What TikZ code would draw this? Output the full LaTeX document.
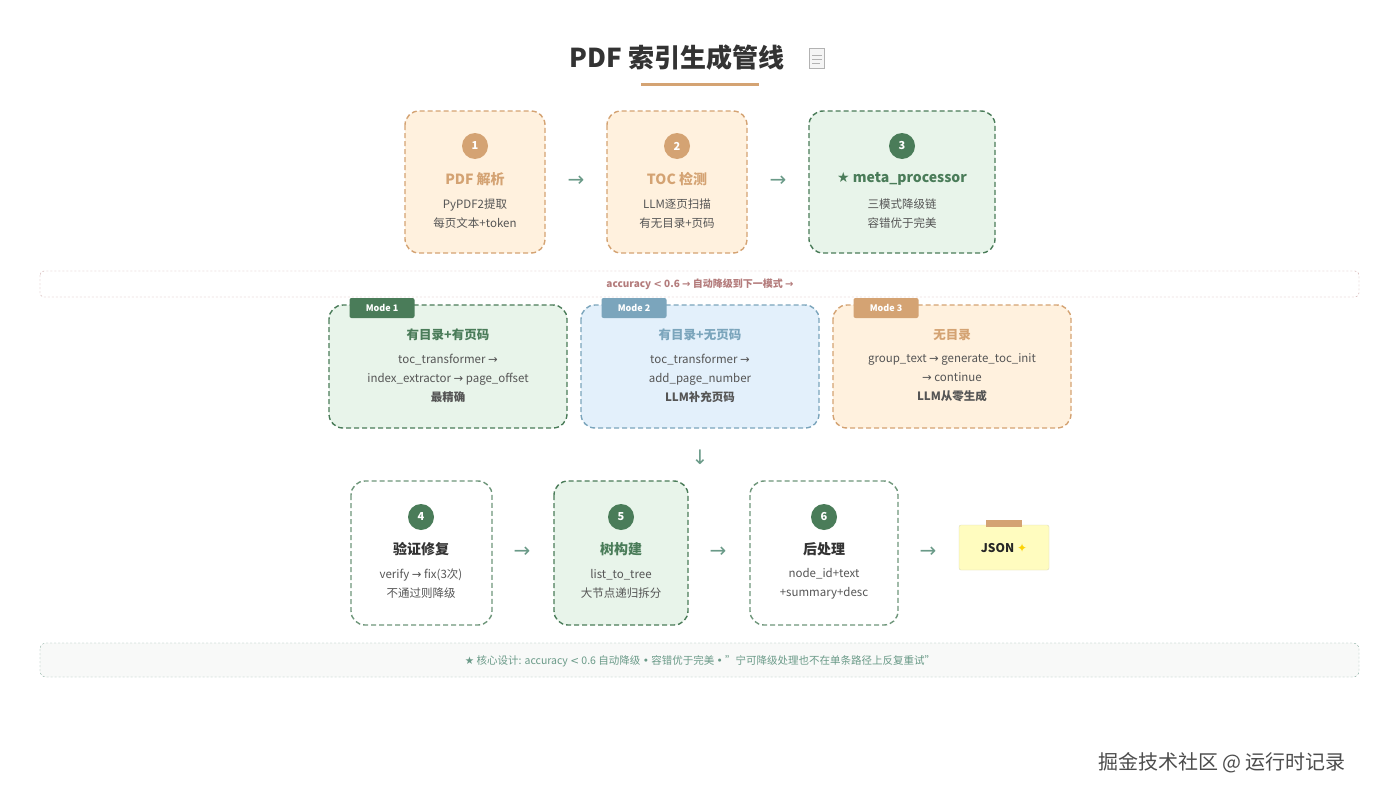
\documentclass[tikz,border=0pt]{standalone}
\usepackage{fontspec}
\setmainfont{Noto Sans CJK SC}
\newfontfamily\djv{DejaVu Sans}
\definecolor{tan}{HTML}{D4A373}
\definecolor{ofill}{HTML}{FFF1DE}
\definecolor{grn}{HTML}{4A7C59}
\definecolor{gfill}{HTML}{E8F4EA}
\definecolor{blu}{HTML}{7BA5BC}
\definecolor{bfill}{HTML}{E3F0FB}
\definecolor{txt}{HTML}{555555}
\definecolor{rose}{HTML}{B47C7C}
\definecolor{arr}{HTML}{6A9A88}
\tikzset{
 x=1pt,y=-1pt,
 card/.style={rounded corners=14pt,dashed,dash pattern=on 5pt off 3pt,line width=1.4pt},
 num/.style={circle,minimum size=26pt,inner sep=0pt,text=white,font=\fontsize{11}{11}\selectfont\bfseries},
 ttl/.style={font=\fontsize{14}{14}\selectfont\bfseries},
 body/.style={font=\fontsize{11.5}{19}\selectfont,text=txt,align=center},
 harr/.style={font=\djv\fontsize{20}{20}\selectfont,text=arr},
 tag/.style={rounded corners=2pt,text=white,font=\fontsize{9}{9}\selectfont\bfseries,minimum width=65pt,minimum height=20pt,inner sep=0pt},
}
\begin{document}
\begin{tikzpicture}
\useasboundingbox (0,0) rectangle (1400,800);
\fill[white] (0,0) rectangle (1400,800);
% title
\node[font=\fontsize{26}{26}\selectfont\bfseries,text=black!80] (title) at (677,58) {PDF 索引生成管线};
\node[draw=gray!60,fill=gray!8,minimum width=15pt,minimum height=20pt,inner sep=0pt] (doc) at (817,58) {};
\draw[gray!60] (812,55)--(822,55) (812,59)--(822,59) (812,63)--(820,63);
\draw[tan,line width=3pt] (641,84)--(759,84);
% top cards
\draw[card,draw=tan,fill=ofill] (405,111) rectangle (545,253);
\draw[card,draw=tan,fill=ofill] (607,111) rectangle (747,253);
\draw[card,draw=grn,fill=gfill] (809,111) rectangle (995,253);
\node[num,fill=tan] (n1) at (475,146) {1};
\node[num,fill=tan] (n2) at (677,146) {2};
\node[num,fill=grn] (n3) at (902,146) {3};
\node[ttl,text=tan] (t1) at (475,179) {PDF 解析};
\node[ttl,text=tan] (t2) at (677,179) {TOC 检测};
\node[ttl,text=grn] (t3) at (902,179) {{\djv ★} meta\_processor};
\node[body] (b1) at (475,214) {PyPDF2提取\\每页文本+token};
\node[body] (b2) at (677,214) {LLM逐页扫描\\有无目录+页码};
\node[body] (b3) at (902,214) {三模式降级链\\容错优于完美};
\node[harr] (a1) at (576,181) {→};
\node[harr] (a2) at (778,181) {→};
% banner
\draw[rose!70,dashed,dash pattern=on 2pt off 2pt,rounded corners=4pt] (40,271) rectangle (1359,297);
\node[text=rose,font=\fontsize{10}{10}\selectfont\bfseries] (ban) at (700,284) {accuracy {\djv <} 0.6 {\djv →} 自动降级到下一模式 {\djv →}};
% modes
\draw[card,draw=grn,fill=gfill] (329,305) rectangle (567,428);
\draw[card,draw=blu,fill=bfill] (581,305) rectangle (819,428);
\draw[card,draw=tan,fill=ofill] (833,305) rectangle (1071,428);
\node[tag,fill=grn] (m1) at (382,308) {Mode 1};
\node[tag,fill=blu] (m2) at (634,308) {Mode 2};
\node[tag,fill=tan] (m3) at (886,308) {Mode 3};
\node[ttl,font=\fontsize{12.5}{12.5}\selectfont\bfseries,text=grn] (mt1) at (448,335) {有目录+有页码};
\node[ttl,font=\fontsize{12.5}{12.5}\selectfont\bfseries,text=blu] (mt2) at (700,335) {有目录+无页码};
\node[ttl,font=\fontsize{12.5}{12.5}\selectfont\bfseries,text=tan] (mt3) at (952,335) {无目录};
\node[body] (mb1) at (448,378) {toc\_transformer {\djv →}\\index\_extractor {\djv →} page\_offset\\\textbf{最精确}};
\node[body] (mb2) at (700,378) {toc\_transformer {\djv →}\\add\_page\_number\\\textbf{LLM补充页码}};
\node[body] (mb3) at (952,378) {group\_text {\djv →} generate\_toc\_init\\{\djv →} continue\\\textbf{LLM从零生成}};
\node[harr] (dn) at (700,457) {↓};
% bottom cards
\draw[card,draw=grn!80,fill=white] (351,481) rectangle (492,625);
\draw[card,draw=grn,fill=gfill] (554,481) rectangle (688,625);
\draw[card,draw=grn!80,fill=white] (750,481) rectangle (898,625);
\node[num,fill=grn] (n4) at (421,517) {4};
\node[num,fill=grn] (n5) at (621,517) {5};
\node[num,fill=grn] (n6) at (824,517) {6};
\node[ttl,text=black!80] (t4) at (421,549) {验证修复};
\node[ttl,text=grn] (t5) at (621,549) {树构建};
\node[ttl,text=black!80] (t6) at (824,549) {后处理};
\node[body] (b4) at (421,584) {verify {\djv →} fix(3次)\\不通过则降级};
\node[body] (b5) at (621,584) {list\_to\_tree\\大节点递归拆分};
\node[body] (b6) at (824,584) {node\_id+text\\+summary+desc};
\node[harr] (a4) at (522,552) {→};
\node[harr] (a5) at (718,552) {→};
\node[harr] (a6) at (928,552) {→};
\draw[fill=yellow!25,draw=yellow!50!black!30,rounded corners=2pt] (959,525) rectangle (1049,570);
\fill[tan] (986,520) rectangle (1022,527);
\node[font=\fontsize{12}{12}\selectfont\bfseries,text=black!85] (json) at (1004,548) {JSON {\djv\textcolor{yellow!70!orange}{✦}}};
% footer
\draw[arr!80,fill=green!4!gray!5,dashed,dash pattern=on 2pt off 2pt,rounded corners=6pt] (40,643) rectangle (1359,677);
\node[text=arr,font=\fontsize{10.5}{10.5}\selectfont\itshape] (foot) at (700,661) {{\djv ★} 核心设计: accuracy {\djv <} 0.6 自动降级 {\djv •} 容错优于完美 {\djv •} "宁可降级处理也不在单条路径上反复重试"};
\node[font=\fontsize{20}{20}\selectfont,text=black!70] (wm) at (1222,763) {掘金技术社区 @ 运行时记录};
\end{tikzpicture}
\end{document}
